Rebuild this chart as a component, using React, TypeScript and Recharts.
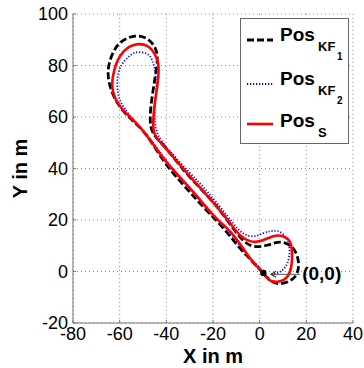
import { LineChart, Line, XAxis, YAxis, CartesianGrid, Legend, ReferenceDot, ReferenceLine } from "recharts";

// trajectories, [x, y] in metres
const posKF1: [number, number][] = [
  [1.5, -0.7], [-3.2, 4.0], [-8.4, 9.0], [-14.4, 15.6], [-21.2, 22.3], [-27.6, 28.5], [-34.1, 35.1],
  [-41.3, 43.2], [-48.2, 52.6], [-54.2, 58.4], [-59.7, 63.8], [-63.6, 70.5], [-64.9, 78.2], [-62.7, 85.2],
  [-58.9, 89.5], [-53.3, 91.4], [-48.2, 90.3], [-44.8, 86.8], [-43.9, 82.1], [-44.8, 75.5], [-46.1, 67.7],
  [-46.9, 60.0], [-45.6, 53.7], [-40.5, 48.3], [-33.2, 40.1], [-25.5, 32.4], [-17.8, 24.6], [-11.4, 16.8],
  [-6.7, 11.8], [-2.4, 9.8], [3.2, 10.2], [8.7, 11.4], [13.9, 9.4], [16.5, 4.4], [16.0, -0.7],
  [12.6, -3.8], [7.5, -4.6], [3.6, -2.6], [1.5, -0.7],
];

const posKF2: [number, number][] = [
  [2.3, -0.7], [-2.4, 3.6], [-7.1, 8.3], [-13.1, 15.3], [-19.5, 21.9], [-25.9, 28.5], [-32.4, 35.1],
  [-40.1, 43.2], [-47.3, 51.8], [-53.8, 58.4], [-58.0, 63.5], [-60.2, 67.3], [-61.0, 72.4], [-60.2, 78.2],
  [-57.6, 82.1], [-54.6, 84.5], [-51.6, 85.2], [-48.2, 84.5], [-46.1, 82.1], [-44.8, 77.5], [-44.3, 71.2],
  [-44.8, 64.6], [-44.8, 58.0], [-43.5, 53.0], [-38.8, 47.1], [-30.2, 38.6], [-23.4, 32.0], [-16.9, 25.0],
  [-11.4, 18.8], [-7.1, 14.9], [-2.4, 13.7], [1.5, 14.9], [4.5, 15.6], [7.9, 15.6], [10.9, 13.7],
  [12.6, 10.2], [12.6, 5.5], [10.9, 1.7], [8.3, -0.3], [5.3, -1.1],
];

const posS: [number, number][] = [
  [1.5, -0.3], [-2.8, 3.6], [-7.1, 9.0], [-12.7, 15.6], [-19.1, 21.1], [-25.5, 27.7], [-31.9, 34.3],
  [-39.6, 42.1], [-46.9, 51.0], [-53.3, 58.0], [-58.5, 62.7], [-61.9, 67.3], [-63.2, 72.4], [-62.3, 78.2],
  [-59.8, 83.7], [-55.9, 87.2], [-52.0, 88.3], [-48.2, 87.6], [-45.2, 84.8], [-43.5, 80.6], [-43.5, 75.1],
  [-44.3, 69.3], [-45.2, 63.5], [-45.6, 58.0], [-44.8, 53.0], [-39.6, 47.1], [-31.1, 38.2], [-24.6, 31.6],
  [-18.2, 25.0], [-12.7, 18.8], [-8.4, 14.1], [-4.1, 11.8], [0.2, 11.8], [5.8, 13.7], [10.0, 13.7],
  [13.0, 11.4], [13.9, 6.7], [13.5, 1.7], [11.7, -2.2], [8.7, -3.8], [5.3, -3.8], [2.8, -2.2], [1.5, -0.3],
];

const xTicks = [-80, -60, -40, -20, 0, 20, 40];
const yTicks = [-20, 0, 20, 40, 60, 80, 100];

const origin = { x: 1.6, y: -0.6 };
const arrowFrom = { x: 17.3, y: -1.1 };
const arrowTo = { x: 4.9, y: -1.1 };
const originLabel = { x: 26.6, y: -0.7, text: "(0,0)" };

const series = [
  { key: "kf1", sub: "KF", subsub: "1", color: "#000000", dash: "7 3", width: 2.8, pts: posKF1 },
  { key: "kf2", sub: "KF", subsub: "2", color: "#0000ff", dash: "1.2 1.8", width: 1.8, pts: posKF2 },
  { key: "s", sub: "S", subsub: "", color: "#ff0000", dash: undefined, width: 2.6, pts: posS },
];

const toRows = (pts: [number, number][]) => pts.map(([x, y]) => ({ x, y }));

const FONT = "'Liberation Sans', Arial, sans-serif";

const LegendBox = () => {
  const rowY = [22, 66, 106];
  return (
    <svg width={110} height={127} style={{ display: "block", fontFamily: FONT }}>
      <rect x={0.5} y={0.5} width={108} height={125} fill="#fff" stroke="#666" strokeWidth={1} />
      {series.map((s, i) => {
        const ly = rowY[i];
        const base = i === 2 ? ly + 3 : ly + 1;
        return (
          <g key={s.key}>
            <line x1={7} x2={33} y1={ly} y2={ly} stroke={s.color} strokeWidth={s.width} strokeDasharray={s.dash} />
            <text x={40} y={base} fontSize={19} fontWeight="bold" fill="#000">Pos</text>
            <text x={78} y={base + 10} fontSize={13} fontWeight="bold" fill="#000">{s.sub}</text>
            {s.subsub && (
              <text x={97} y={base + 19} fontSize={10} fontWeight="bold" fill="#000">{s.subsub}</text>
            )}
          </g>
        );
      })}
    </svg>
  );
};

const Arrow = (p: any) => {
  const { x1, y1, x2, y2 } = p;
  return (
    <g>
      <line x1={x1} y1={y1} x2={x2} y2={y2} stroke="#555" strokeWidth={1} />
      <path d={`M ${x2 + 5} ${y2 - 3} L ${x2} ${y2} L ${x2 + 5} ${y2 + 3}`} fill="none" stroke="#333" strokeWidth={1.2} />
    </g>
  );
};

export default function App() {
  const tickStyle = { fill: "#000", fontSize: 18, fontFamily: FONT };
  return (
    <div style={{ position: "absolute", left: 0, top: 0, fontFamily: FONT }}>
      <LineChart width={364} height={368} margin={{ top: 14, right: 11, left: 0, bottom: 0 }}>
        <CartesianGrid stroke="#888" strokeDasharray="1 3" />
        <XAxis
          dataKey="x"
          type="number"
          domain={[-80, 40]}
          ticks={xTicks}
          interval={0}
          height={45}
          stroke="#777"
          tick={tickStyle}
          tickSize={-3}
          tickMargin={7}
          allowDataOverflow
          label={{ value: "X in m", position: "insideBottom", offset: 5, style: { fontSize: 20, fontWeight: "bold", fill: "#000", fontFamily: FONT } }}
        />
        <XAxis xAxisId="top" orientation="top" type="number" domain={[-80, 40]} ticks={xTicks} height={0} stroke="#777" tick={false} tickSize={-3} />
        <YAxis
          type="number"
          domain={[-20, 100]}
          ticks={yTicks}
          interval={0}
          width={73}
          stroke="#777"
          tick={tickStyle}
          tickSize={-3}
          tickMargin={8}
          allowDataOverflow
          label={{ value: "Y in m", angle: -90, position: "insideLeft", offset: 20, style: { textAnchor: "middle", fontSize: 20, fontWeight: "bold", fill: "#000", fontFamily: FONT } }}
        />
        <YAxis yAxisId="right" orientation="right" type="number" domain={[-20, 100]} ticks={yTicks} width={0} stroke="#777" tick={false} tickSize={-3} />
        {series.map((s) => (
          <Line
            key={s.key}
            name={s.key}
            data={toRows(s.pts)}
            dataKey="y"
            type="natural"
            stroke={s.color}
            strokeWidth={s.width}
            strokeDasharray={s.dash}
            dot={false}
            activeDot={false}
            isAnimationActive={false}
          />
        ))}
        <ReferenceLine segment={[arrowFrom, arrowTo]} shape={Arrow} />
        <ReferenceDot x={origin.x} y={origin.y} r={3.2} fill="#000" stroke="none" />
        <ReferenceDot
          x={originLabel.x}
          y={originLabel.y}
          r={0}
          fill="none"
          stroke="none"
          label={{ value: originLabel.text, position: "center", style: { fontSize: 19, fontWeight: "bold", fill: "#000", fontFamily: FONT } }}
        />
        <Legend
          layout="vertical"
          align="center"
          verticalAlign="middle"
          content={() => <LegendBox />}
          wrapperStyle={{ position: "absolute", left: 240, top: 18, width: 110, height: 127 }}
        />
      </LineChart>
    </div>
  );
}
